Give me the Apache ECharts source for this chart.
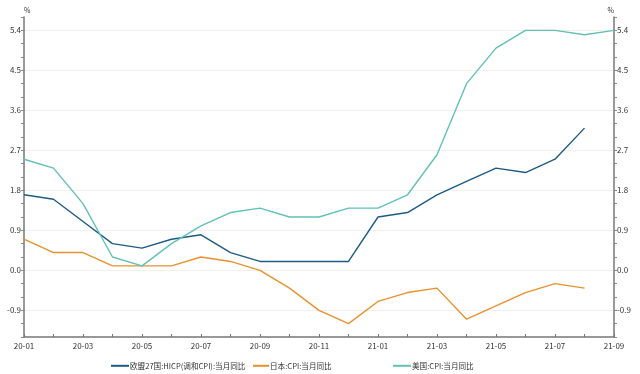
<!DOCTYPE html>
<html><head><meta charset="utf-8">
<script src="https://cdn.jsdelivr.net/npm/echarts@6/dist/echarts.min.js"></script>
<style>html,body{margin:0;padding:0;background:#fff}#c{width:640px;height:374px}</style>
</head><body><div id="c"></div>
<script>
const months = ['20-01','20-02','20-03','20-04','20-05','20-06','20-07','20-08','20-09','20-10','20-11','20-12','21-01','21-02','21-03','21-04','21-05','21-06','21-07','21-08','21-09'];
const euName = '欧盟27国:HICP(调和CPI):当月同比';
const jpName = '日本:CPI:当月同比';
const usName = '美国:CPI:当月同比';
const euHicp = [1.7,1.6,1.1,0.6,0.5,0.7,0.8,0.4,0.2,0.2,0.2,0.2,1.2,1.3,1.7,2.0,2.3,2.2,2.5,3.2,null];
const jpCpi = [0.7,0.4,0.4,0.1,0.1,0.1,0.3,0.2,0.0,-0.4,-0.9,-1.2,-0.7,-0.5,-0.4,-1.1,-0.8,-0.5,-0.3,-0.4,null];
const usCpi = [2.5,2.3,1.5,0.3,0.1,0.6,1.0,1.3,1.4,1.2,1.2,1.4,1.4,1.7,2.6,4.2,5.0,5.4,5.4,5.3,5.4];
const yMin = -1.5, yMax = 5.7, yStep = 0.3, yLabelStep = 0.9;

const font = 'Noto Sans CJK SC';
function isMajor(v){ const r = Math.round(v*10) % Math.round(yLabelStep*10); return r === 0; }
function yAxis(pos){
  return {
    type:'value', position:pos, min:yMin, max:yMax, interval:yStep,
    name:'%', nameLocation:'end', nameGap:3,
    nameTextStyle:{fontSize:7,color:'#333',fontFamily:font, align: pos==='left'?'left':'right'},
    axisLine:{show:true,onZero:false,lineStyle:{color:'#777',width:1.5}},
    axisTick:{show:true,length:3,lineStyle:{color:'#888'}},
    axisLabel:{fontSize:8,color:'#333',fontFamily:font,margin:3,showMinLabel:true,showMaxLabel:true,
      formatter:v=> isMajor(v) ? v.toFixed(1) : ''},
    splitLine:{show:pos==='left',lineStyle:{color:['rgba(0,0,0,0)','rgba(0,0,0,0)','#f2efec'],width:1}}
  };
}
const lt = {fontSize:7.6,color:'#333',fontFamily:font,padding:[0,0,0,-4]};
const chart = echarts.init(document.getElementById('c'),null,{renderer:'canvas'});
chart.setOption({
  animation:false,
  backgroundColor:'#fff',
  grid:{left:24,right:26,top:17,bottom:37,containLabel:false},
  legend:[
    {data:[euName],left:106,top:357,itemWidth:18,itemHeight:2,icon:'rect',textStyle:lt},
    {data:[jpName],left:248,top:357,itemWidth:16,itemHeight:2,icon:'rect',textStyle:lt},
    {data:[usName],left:388,top:357,itemWidth:18,itemHeight:2,icon:'rect',textStyle:lt}
  ],
  xAxis:{type:'category',data:months,boundaryGap:false,
    axisLine:{onZero:false,lineStyle:{color:'#777',width:1.5}},
    axisTick:{show:true,inside:true,length:3,interval:0,lineStyle:{color:'#777'}},
    axisLabel:{interval:1,fontSize:8,color:'#333',fontFamily:font,margin:5},
    splitLine:{show:false}},
  yAxis:[yAxis('left'),yAxis('right')],
  series:[
    {name:euName,type:'line',data:euHicp,symbol:'none',lineStyle:{width:1.4,color:'#1d5b86'},itemStyle:{color:'#1d5b86'}},
    {name:jpName,type:'line',data:jpCpi,symbol:'none',lineStyle:{width:1.4,color:'#e8912f'},itemStyle:{color:'#e8912f'}},
    {name:usName,type:'line',data:usCpi,symbol:'none',lineStyle:{width:1.4,color:'#62c0b5'},itemStyle:{color:'#62c0b5'}}
  ]
});
</script></body></html>
